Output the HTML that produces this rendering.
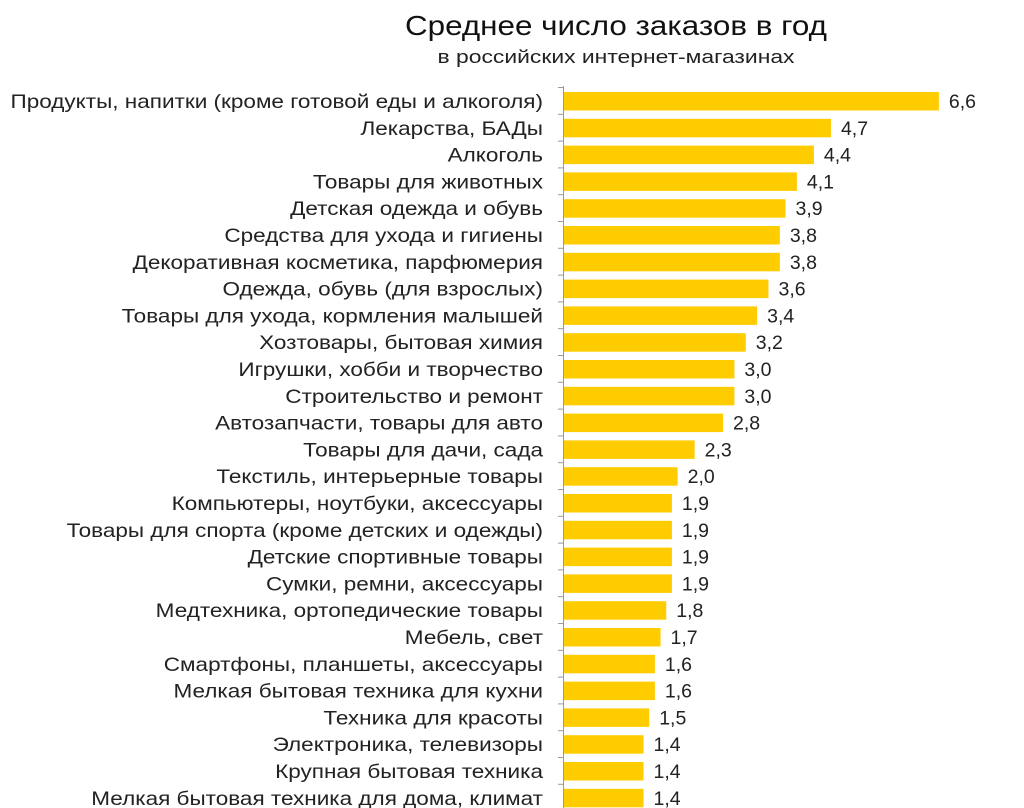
<!DOCTYPE html>
<html><head><meta charset="utf-8"><style>
html,body{margin:0;padding:0;background:#fff;}
svg{display:block;font-family:"Liberation Sans","DejaVu Sans",sans-serif;}
</style></head><body>
<svg width="1024" height="808" viewBox="0 0 1024 808">
<text x="616" y="35" text-anchor="middle" font-size="28" fill="#111" textLength="422" lengthAdjust="spacingAndGlyphs">Среднее число заказов в год</text>
<text x="616" y="63" text-anchor="middle" font-size="18" fill="#222" textLength="357" lengthAdjust="spacingAndGlyphs">в российских интернет-магазинах</text>
<g id="g"></g>
</svg>
<script>
var d=[["Продукты, напитки (кроме готовой еды и алкоголя)",6.6],["Лекарства, БАДы",4.7],["Алкоголь",4.4],["Товары для животных",4.1],["Детская одежда и обувь",3.9],["Средства для ухода и гигиены",3.8],["Декоративная косметика, парфюмерия",3.8],["Одежда, обувь (для взрослых)",3.6],["Товары для ухода, кормления малышей",3.4],["Хозтовары, бытовая химия",3.2],["Игрушки, хобби и творчество",3.0],["Строительство и ремонт",3.0],["Автозапчасти, товары для авто",2.8],["Товары для дачи, сада",2.3],["Текстиль, интерьерные товары",2.0],["Компьютеры, ноутбуки, аксессуары",1.9],["Товары для спорта (кроме детских и одежды)",1.9],["Детские спортивные товары",1.9],["Сумки, ремни, аксессуары",1.9],["Медтехника, ортопедические товары",1.8],["Мебель, свет",1.7],["Смартфоны, планшеты, аксессуары",1.6],["Мелкая бытовая техника для кухни",1.6],["Техника для красоты",1.5],["Электроника, телевизоры",1.4],["Крупная бытовая техника",1.4],["Мелкая бытовая техника для дома, климат",1.4]];
var s='',p=26.8,x0=564,k=56.8;
s+='<line x1="563.5" y1="86" x2="563.5" y2="808" stroke="#999" stroke-width="1"/>';
for(var i=0;i<d.length;i++){var t=92+i*p,w=d[i][1]*k,c=t+9;
s+='<line x1="558" y1="'+(t-4.5)+'" x2="563" y2="'+(t-4.5)+'" stroke="#999"/>';
s+='<rect x="'+x0+'" y="'+t+'" width="'+w+'" height="18.5" fill="#ffcc00"/>';
s+='<text class="lb" x="543" y="'+(c+7)+'" text-anchor="end" font-size="19.5" fill="#222">'+d[i][0]+'</text>';
s+='<text x="'+(x0+w+10)+'" y="'+(c+7)+'" font-size="19.5" fill="#222">'+d[i][1].toFixed(1).replace(".",",")+'</text>';}
document.getElementById('g').innerHTML=s;
var L=document.querySelectorAll('.lb');
for(var j=0;j<L.length;j++){var n=L[j].getComputedTextLength();L[j].setAttribute('textLength',(n*1.155).toFixed(1));L[j].setAttribute('lengthAdjust','spacingAndGlyphs');}
</script>
</body></html>
